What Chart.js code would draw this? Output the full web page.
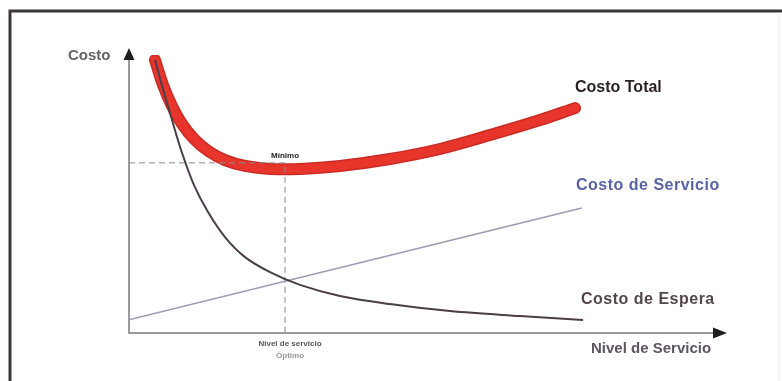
<!DOCTYPE html>
<html lang="es">
<head>
    <meta charset="UTF-8">
    <title>Costo Total vs Nivel de Servicio</title>
    <style>
        body {
            margin: 0;
            background: #ffffff;
        }
        #wrap {
            position: relative;
            width: 782px;
            height: 381px;
        }
    </style>
    <script src="https://cdn.jsdelivr.net/npm/chart.js"></script>
</head>
<body>
    <div id="wrap">
        <canvas id="costos" width="782" height="381"></canvas>
    </div>

    <script>
        // Nivel de servicio (eje x) y costo (eje y), unidades relativas 0-100
        const nivelTotal = [4.4, 5.75, 7.28, 8.97, 11.0, 13.37, 16.24, 19.63, 23.86, 28.93, 35.7, 44.16, 52.62, 61.08, 69.54, 75.47];
        const costoTotal = [98.2, 89.2, 81.6, 75.2, 69.8, 65.5, 62.2, 60.1, 59.0, 59.0, 60.1, 62.6, 66.2, 71.2, 76.6, 80.9];

        const nivelEspera = [4.4, 5.75, 7.28, 8.97, 11.0, 13.37, 16.24, 19.63, 23.86, 28.93, 35.7, 44.16, 54.31, 66.16, 76.82];
        const costoEspera = [98.2, 87.8, 76.6, 64.8, 53.2, 43.5, 34.5, 27.3, 21.9, 17.3, 13.3, 10.4, 7.9, 6.1, 4.7];

        const nivelServicio = [0, 76.6];
        const costoServicio = [4.8, 45.0];

        // Punto óptimo (nivel de servicio óptimo, costo mínimo)
        const nivelOptimo = 26.4;
        const costoMinimo = 61.2;

        const puntos = (xs, ys) => xs.map((x, i) => ({ x: x, y: ys[i] }));

        // Ejes con flechas, marco y rótulos
        const decorado = {
            id: 'decorado',
            beforeDatasetsDraw(chart) {
                const c = chart.ctx;
                const a = chart.chartArea;
                c.save();
                // marco
                c.strokeStyle = '#3a3638';
                c.lineWidth = 3;
                c.beginPath();
                c.moveTo(10, 381);
                c.lineTo(10, 11);
                c.lineTo(782, 11);
                c.stroke();
                c.strokeStyle = '#e6e6e6';
                c.lineWidth = 1;
                c.beginPath();
                c.moveTo(779, 14);
                c.lineTo(779, 381);
                c.stroke();

                // ejes
                c.strokeStyle = '#7a7a7a';
                c.lineWidth = 1.5;
                c.beginPath();
                c.moveTo(a.left, a.top + 5);
                c.lineTo(a.left, a.bottom);
                c.lineTo(a.right - 6, a.bottom);
                c.stroke();
                c.fillStyle = '#1e1e1e';
                c.beginPath();
                c.moveTo(a.left, a.top - 7);
                c.lineTo(a.left - 5.5, a.top + 5);
                c.lineTo(a.left + 5.5, a.top + 5);
                c.closePath();
                c.fill();
                c.beginPath();
                c.moveTo(a.right + 7, a.bottom);
                c.lineTo(a.right - 7, a.bottom - 5.5);
                c.lineTo(a.right - 7, a.bottom + 5.5);
                c.closePath();
                c.fill();
                c.restore();
            },
            afterDatasetsDraw(chart) {
                const c = chart.ctx;
                const x = chart.scales.x;
                const y = chart.scales.y;
                const ox = x.getPixelForValue(nivelOptimo);
                const my = y.getPixelForValue(costoMinimo);
                c.save();
                c.textBaseline = 'middle';
                c.textAlign = 'left';

                c.fillStyle = '#6a6068';
                c.font = 'bold 15px "Liberation Sans", Arial, sans-serif';
                c.fillText('Costo', 68, 56);

                c.fillStyle = '#2a1f26';
                c.font = 'bold 16px "Liberation Sans", Arial, sans-serif';
                c.fillText('Costo Total', 575, 88);

                c.fillStyle = '#5a62a6';
                c.letterSpacing = '0.5px';
                c.fillText('Costo de Servicio', 576, 186);

                c.fillStyle = '#54464f';
                c.fillText('Costo de Espera', 581, 300);

                c.fillStyle = '#5e5560';
                c.letterSpacing = '0px';
                c.font = 'bold 15px "Liberation Sans", Arial, sans-serif';
                c.fillText('Nivel de Servicio', 591, 349);

                c.textAlign = 'center';
                c.fillStyle = '#222222';
                c.font = 'bold 8px "Liberation Sans", Arial, sans-serif';
                c.fillText('Mínimo', ox, my - 7);

                c.fillStyle = '#555555';
                c.font = 'bold 8px "Liberation Sans", Arial, sans-serif';
                c.fillText('Nivel de servicio', ox + 5, 344);
                c.fillStyle = '#999999';
                c.fillText('Óptimo', ox + 5, 356);
                c.restore();
            }
        };

        new Chart(document.getElementById('costos'), {
            type: 'scatter',
            data: {
                datasets: [
                    {
                        label: 'Costo de Espera',
                        data: puntos(nivelEspera, costoEspera),
                        showLine: true,
                        borderColor: '#4a3e49',
                        borderWidth: 2,
                        pointRadius: 0,
                        tension: 0.35
                    },
                    {
                        label: 'Costo de Servicio',
                        data: puntos(nivelServicio, costoServicio),
                        showLine: true,
                        borderColor: '#9b9db0',
                        borderWidth: 1.5,
                        pointRadius: 0
                    },
                    {
                        label: 'Óptimo',
                        data: [
                            { x: 0, y: costoMinimo },
                            { x: nivelOptimo, y: costoMinimo },
                            { x: nivelOptimo, y: 0 }
                        ],
                        showLine: true,
                        borderColor: '#8a8a8a',
                        borderWidth: 1,
                        borderDash: [6, 4],
                        pointRadius: 0
                    },
                    {
                        label: 'Costo Total',
                        data: puntos(nivelTotal, costoTotal),
                        showLine: true,
                        borderColor: '#e8352c',
                        borderWidth: 9,
                        borderCapStyle: 'round',
                        pointRadius: 0,
                        tension: 0.35
                    },
                    {
                        label: 'Costo Total borde',
                        data: puntos(nivelTotal, costoTotal),
                        showLine: true,
                        borderColor: '#c92b24',
                        borderWidth: 12,
                        borderCapStyle: 'round',
                        pointRadius: 0,
                        tension: 0.35
                    }
                ]
            },
            options: {
                responsive: false,
                animation: false,
                layout: {
                    padding: { left: 129, right: 62, top: 55, bottom: 48 }
                },
                plugins: {
                    legend: { display: false },
                    tooltip: { enabled: false }
                },
                scales: {
                    x: { type: 'linear', min: 0, max: 100, display: false },
                    y: { type: 'linear', min: 0, max: 100, display: false }
                }
            },
            plugins: [decorado]
        });
    </script>
</body>
</html>
